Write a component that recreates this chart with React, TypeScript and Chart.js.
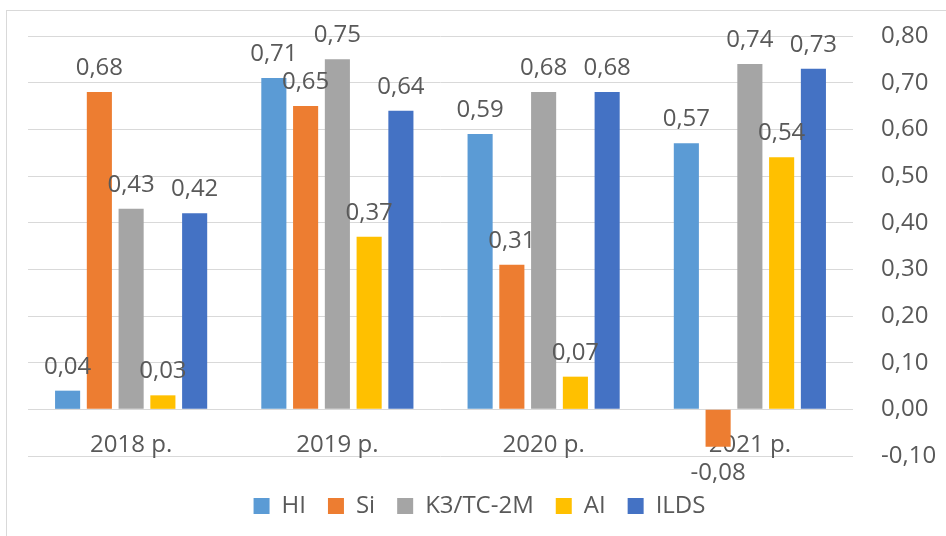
import React, { useEffect, useRef } from "react";
import { Chart, registerables } from "chart.js";

Chart.register(...registerables);

const categories = ["2018 р.", "2019 р.", "2020 р.", "2021 р."];
const seriesNames = ["HI", "Si", "K3/TC-2M", "AI", "ILDS"];
const hiValues = [0.04, 0.71, 0.59, 0.57];
const siValues = [0.68, 0.65, 0.31, -0.08];
const k3Values = [0.43, 0.75, 0.68, 0.74];
const aiValues = [0.03, 0.37, 0.07, 0.54];
const ildsValues = [0.42, 0.64, 0.68, 0.73];
const seriesColors = ["#5B9BD5", "#ED7D31", "#A5A5A5", "#FFC000", "#4472C4"];
const yMin = -0.1;
const yMax = 0.8;
const yStep = 0.1;

const FONT = "'Open Sans', sans-serif";
const TEXT = "#595959";

const fmt = (v: number) => v.toFixed(2).replace(".", ",");

const valueLabels = {
  id: "valueLabels",
  afterDatasetsDraw(chart: any) {
    const ctx = chart.ctx;
    ctx.save();
    ctx.font = `24px ${FONT}`;
    ctx.fillStyle = TEXT;
    ctx.textAlign = "center";
    ctx.textBaseline = "middle";
    chart.data.datasets.forEach((ds: any, i: number) => {
      const meta = chart.getDatasetMeta(i);
      meta.data.forEach((el: any, j: number) => {
        const v = ds.data[j];
        const y = v >= 0 ? el.y - 24 : el.y + 26;
        ctx.fillText(fmt(v), el.x, y);
      });
    });
    ctx.restore();
  },
};

export default function App() {
  const ref = useRef<HTMLCanvasElement>(null);
  useEffect(() => {
    if (!ref.current) return;
    const all = [hiValues, siValues, k3Values, aiValues, ildsValues];
    const chart = new Chart(ref.current, {
      type: "bar",
      data: {
        labels: categories,
        datasets: seriesNames.map((name, i) => ({
          label: name,
          data: all[i],
          backgroundColor: seriesColors[i],
          borderWidth: 0,
          categoryPercentage: 0.77,
          barPercentage: 0.79,
        })),
      },
      options: {
        animation: false,
        responsive: false,
        devicePixelRatio: 1,
        layout: { padding: { left: 13, top: 36, right: 0, bottom: 8 } },
        plugins: {
          tooltip: { enabled: false },
          title: {
            display: true,
            text: "",
            position: "bottom",
            weight: 500,
            font: { size: 10, lineHeight: 1 },
            padding: { top: 6, bottom: 0 },
          },
          subtitle: {
            display: true,
            text: "",
            position: "left",
            fullSize: false,
            font: { size: 10, lineHeight: 1 },
            padding: { top: 5, bottom: 0 },
          },
          legend: {
            position: "bottom",
            labels: {
              boxWidth: 16,
              boxHeight: 16,
              padding: 22,
              color: TEXT,
              font: { family: FONT, size: 24 },
            },
          },
        },
        scales: {
          x: {
            position: { y: 0 } as any,
            grid: { display: false, drawTicks: false },
            border: { display: false },
            ticks: { color: TEXT, font: { family: FONT, size: 24 }, padding: 21 },
          },
          y: {
            position: "right",
            min: yMin,
            max: yMax,
            grid: {
              color: "#d9d9d9",
              lineWidth: 1,
              drawTicks: true,
              tickLength: 28,
              tickColor: "rgba(0,0,0,0)",
            },
            border: { display: false },
            ticks: {
              stepSize: yStep,
              color: TEXT,
              font: { family: FONT, size: 24 },
              padding: 0,
              callback: (v: any) => fmt(Number(v)),
            },
            afterFit: (s: any) => {
              s.width = 93;
            },
          },
        },
      },
      plugins: [valueLabels],
    });
    return () => chart.destroy();
  }, []);

  return (
    <div
      style={{
        position: "fixed",
        left: 0,
        top: 0,
        width: 946,
        height: 536,
        overflow: "hidden",
        background: "#fff",
      }}
    >
      <div
        style={{
          position: "absolute",
          left: 6,
          top: 10,
          width: 1000,
          height: 1000,
          border: "1px solid #d9d9d9",
        }}
      />
      <canvas
        ref={ref}
        width={946}
        height={536}
        style={{ position: "absolute", left: 0, top: 0 }}
      />
    </div>
  );
}
